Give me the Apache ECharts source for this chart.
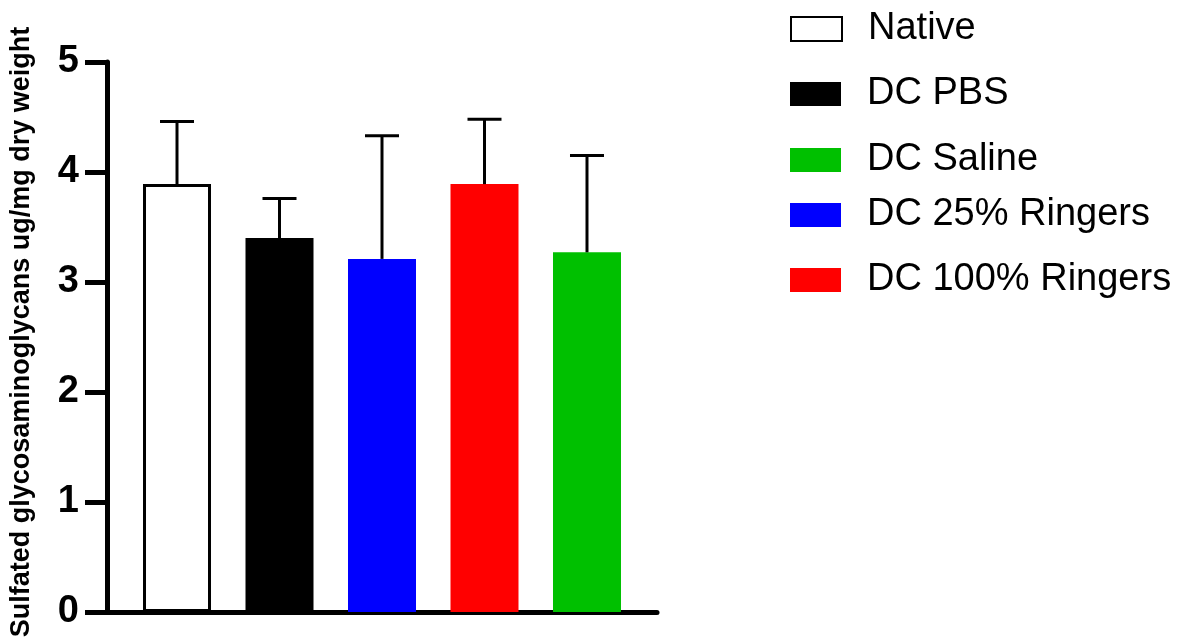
<!DOCTYPE html>
<html>
<head>
<meta charset="utf-8">
<script src="https://cdn.jsdelivr.net/npm/echarts@6/dist/echarts.min.js"></script>
<style>
  html, body { margin: 0; padding: 0; background: #ffffff; }
  #chart { width: 1198px; height: 644px; }
</style>
</head>
<body>
<div id="chart"></div>
<script>
// Groups in the order the bars are drawn left to right
const groups = ['Native', 'DC PBS', 'DC 25% Ringers', 'DC 100% Ringers', 'DC Saline'];
// Mean sulfated GAG content (ug/mg dry weight)
const means = [3.89, 3.40, 3.21, 3.89, 3.27];
// Upper error (SD) above each mean
const errors = [0.57, 0.36, 1.12, 0.59, 0.88];
// Legend order
const legendOrder = ['Native', 'DC PBS', 'DC Saline', 'DC 25% Ringers', 'DC 100% Ringers'];
// Y-axis ticks
const yTicks = [0, 1, 2, 3, 4, 5];

const fills = {
  'Native': '#ffffff',
  'DC PBS': '#000000',
  'DC 25% Ringers': '#0000ff',
  'DC 100% Ringers': '#ff0000',
  'DC Saline': '#00c000'
};

const FONT = 'Arial, "Liberation Sans", Helvetica, sans-serif';

const barSeries = groups.map((g, i) => ({
  name: g,
  type: 'bar',
  barWidth: 68,
  barGap: '-100%',
  data: [[i, means[i]]],
  itemStyle: {
    color: fills[g],
    borderColor: g === 'Native' ? '#000000' : fills[g],
    borderWidth: g === 'Native' ? 3 : 0
  },
  z: 2
}));

const errorSeries = {
  type: 'custom',
  name: 'SD',
  data: groups.map((g, i) => [i, means[i], means[i] + errors[i]]),
  renderItem: function (params, api) {
    const x = api.value(0);
    const lo = api.coord([x, api.value(1)]);
    const hi = api.coord([x, api.value(2)]);
    const half = 17;
    const st = { stroke: '#000000', lineWidth: 3 };
    return {
      type: 'group',
      children: [
        { type: 'line', shape: { x1: lo[0], y1: lo[1], x2: hi[0], y2: hi[1] }, style: st },
        { type: 'line', shape: { x1: hi[0] - half, y1: hi[1], x2: hi[0] + half, y2: hi[1] }, style: st }
      ]
    };
  },
  z: 3
};

const legendTops = [4, 69, 135, 190, 255];
const legends = legendOrder.map((name, k) => ({
  data: [{ name: name, icon: 'rect' }],
  left: 785,
  top: legendTops[k],
  orient: 'vertical',
  itemWidth: 51,
  itemHeight: 24,
  selectedMode: false,
  textStyle: {
    fontFamily: FONT,
    fontSize: 38,
    lineHeight: 40,
    color: '#000000',
    padding: [0, 0, 0, 21]
  }
}));

const chart = echarts.init(document.getElementById('chart'), null, { renderer: 'canvas' });
chart.setOption({
  animation: false,
  backgroundColor: '#ffffff',
  legend: legends,
  grid: { left: 107, right: 541, top: 62, bottom: 32, containLabel: false },
  xAxis: {
    type: 'value',
    min: -0.683,
    max: 4.683,
    axisLine: { show: true, lineStyle: { color: '#000000', width: 5 } },
    axisTick: { show: false },
    axisLabel: { show: false },
    splitLine: { show: false }
  },
  yAxis: {
    type: 'value',
    min: yTicks[0],
    max: yTicks[yTicks.length - 1],
    interval: 1,
    name: 'Sulfated glycosaminoglycans ug/mg dry weight',
    nameLocation: 'middle',
    nameGap: 72,
    nameTextStyle: { fontFamily: FONT, fontWeight: 'bold', fontSize: 27, color: '#000000', padding: [0, 0, 0, 10] },
    axisLine: { show: true, onZero: false, lineStyle: { color: '#000000', width: 5 } },
    axisTick: { show: true, length: 22, lineStyle: { color: '#000000', width: 5 } },
    axisLabel: { fontFamily: FONT, fontWeight: 'bold', fontSize: 38, color: '#000000', margin: 28 },
    splitLine: { show: false }
  },
  series: barSeries.concat([errorSeries])
});
</script>
</body>
</html>
